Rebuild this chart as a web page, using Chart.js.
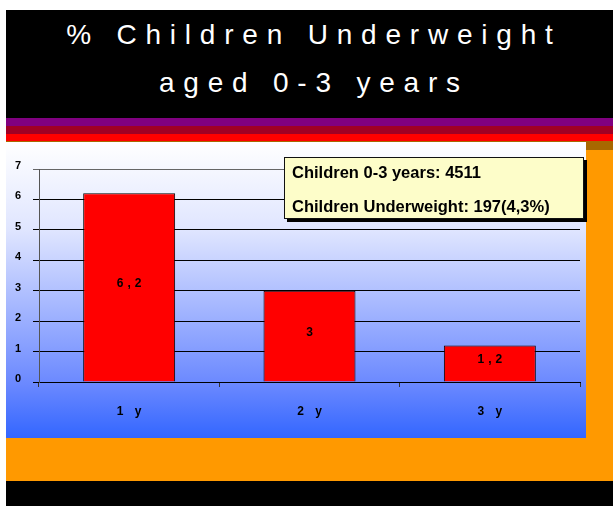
<!DOCTYPE html>
<html>
<head>
<meta charset="utf-8">
<script src="https://cdn.jsdelivr.net/npm/chart.js@4/dist/chart.umd.min.js"></script>
<style>
  body { margin: 0; background: #fff; width: 613px; height: 506px; position: relative; overflow: hidden; font-family: Arial, "Liberation Sans", sans-serif; }
  .blk { position: absolute; }
  #header { left: 6px; top: 10px; width: 607px; height: 108px; background: #000; }
  .title { position: absolute; left: 0; width: 100%; text-align: center; color: #fff; font-size: 28px; line-height: 28px; letter-spacing: 8.8px; padding-left: 8.8px; box-sizing: border-box; }
  #panel { left: 6px; top: 142px; width: 580px; height: 296px; background: linear-gradient(to bottom, #ffffff 0%, #dfe5ff 30%, #6a88ff 82%, #3366ff 100%); }
  #note { left: 284px; top: 157px; width: 300px; height: 62px; box-sizing: border-box; background: #fdfdc9; border: 1px solid #111; box-shadow: 3px 3px 0 #000; }
  #note div { position: absolute; left: 7px; font-weight: bold; font-size: 16.5px; line-height: 16.5px; color: #000; white-space: nowrap; }
</style>
</head>
<body>
<div class="blk" id="header">
  <div class="title" style="top: 11px;">% Children Underweight</div>
  <div class="title" style="top: 59px;">aged 0-3 years</div>
</div>
<div class="blk" style="left:6px; top:118px; width:607px; height:8px; background:#800080;"></div>
<div class="blk" style="left:6px; top:126px; width:607px; height:8px; background:#a00025;"></div>
<div class="blk" style="left:6px; top:134px; width:607px; height:7px; background:#ff0000;"></div>
<div class="blk" style="left:6px; top:141px; width:607px; height:2px; background:#a86800;"></div>
<div class="blk" style="left:6px; top:143px; width:607px; height:338px; background:#ff9900;"></div>
<div class="blk" style="left:586px; top:143px; width:27px; height:7px; background:#a86800;"></div>
<div class="blk" style="left:6px; top:481px; width:607px; height:25px; background:#000;"></div>
<div class="blk" id="panel"><canvas id="underweightChart" width="580" height="296"></canvas></div>
<div class="blk" id="note">
  <div id="noteLine1" style="top: 6px;"></div>
  <div id="noteLine2" style="top: 40px;"></div>
</div>
<script>
// % underweight by age group
const ageGroups = ['1 y', '2 y', '3 y'];
const underweightPct = [6.2, 3, 1.2];
const yTicks = [0, 1, 2, 3, 4, 5, 6, 7];
const noteLines = ['Children 0-3 years: 4511', 'Children Underweight: 197(4,3%)'];

document.getElementById('noteLine1').textContent = noteLines[0];
document.getElementById('noteLine2').textContent = noteLines[1];

const SPACING = 4;

// wide letter spacing for axis and value labels
const spacedText = {
  id: 'spacedText',
  beforeDraw(chart) { chart.ctx.letterSpacing = SPACING + 'px'; },
  afterDraw(chart) { chart.ctx.letterSpacing = '0px'; }
};

// value in the middle of each bar, decimal comma
const barValues = {
  id: 'barValues',
  afterDatasetsDraw(chart) {
    const ctx = chart.ctx;
    const meta = chart.getDatasetMeta(0);
    ctx.save();
    ctx.letterSpacing = SPACING + 'px';
    ctx.font = 'bold 12px Arial, "Liberation Sans", sans-serif';
    ctx.fillStyle = '#000';
    ctx.textAlign = 'center';
    ctx.textBaseline = 'middle';
    meta.data.forEach((bar, i) => {
      const txt = String(underweightPct[i]).replace('.', ',');
      ctx.fillText(txt, bar.x + SPACING / 2, (bar.y + bar.base) / 2 - 3.5);
    });
    ctx.restore();
  }
};

new Chart(document.getElementById('underweightChart'), {
  type: 'bar',
  data: {
    labels: ageGroups,
    datasets: [{
      data: underweightPct,
      backgroundColor: '#ff0000',
      borderColor: '#000',
      borderWidth: 1,
      barPercentage: 0.51,
      categoryPercentage: 1
    }]
  },
  options: {
    responsive: false,
    animation: false,
    layout: { padding: { top: 27, right: 6, left: 0, bottom: 0 } },
    plugins: { legend: { display: false }, tooltip: { enabled: false } },
    scales: {
      x: {
        grid: { offset: true, drawOnChartArea: false, tickLength: 5, color: '#333' },
        border: { color: '#000' },
        ticks: {
          color: '#000',
          font: { family: 'Arial, "Liberation Sans", sans-serif', size: 12, weight: 'bold' },
          padding: 17,
          labelOffset: SPACING / 2,
          maxRotation: 0
        },
        afterFit(scale) { scale.height = 56; }
      },
      y: {
        min: 0,
        max: 7,
        afterBuildTicks(scale) { scale.ticks = yTicks.map(v => ({ value: v })); },
        grid: {
          color: ctx => ctx.tick && ctx.tick.value === 7 ? '#666' : '#000',
          tickLength: 6
        },
        border: { color: '#555' },
        ticks: {
          color: '#000',
          font: { family: 'Arial, "Liberation Sans", sans-serif', size: 11, weight: 'bold' },
          padding: 12 - SPACING,
          labelOffset: -3
        },
        afterFit(scale) { scale.width = 33; }
      }
    }
  },
  plugins: [spacedText, barValues]
});
</script>
</body>
</html>
